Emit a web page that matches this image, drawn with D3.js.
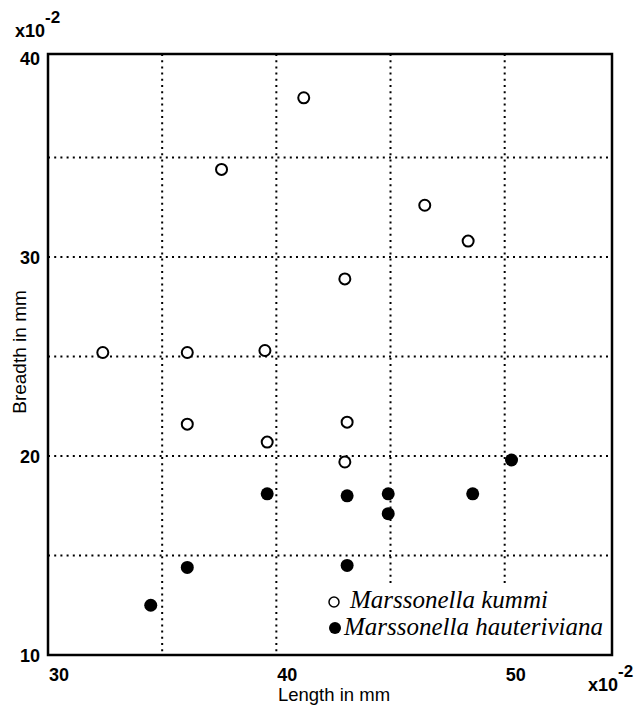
<!DOCTYPE html>
<html>
<head>
<meta charset="utf-8">
<script src="https://cdn.jsdelivr.net/npm/d3@7"></script>
<style>
  body { margin: 0; background: white; }
  text { font-family: "Liberation Sans", Arial, sans-serif; fill: black; }
</style>
</head>
<body>
<div id="chart"></div>
<script>

// Marssonella kummi (open circles), values x10^-2 mm
var kummiLength  = [41.2, 37.6, 46.5, 48.4, 43.0, 32.4, 36.1, 39.5, 36.1, 39.6, 43.1, 43.0];
var kummiBreadth = [38.0, 34.4, 32.6, 30.8, 28.9, 25.2, 25.2, 25.3, 21.6, 20.7, 21.7, 19.7];

// Marssonella hauteriviana (filled circles)
var hautLength  = [39.6, 43.1, 44.9, 44.9, 48.6, 50.3, 36.1, 43.1, 34.5];
var hautBreadth = [18.1, 18.0, 18.1, 17.1, 18.1, 19.8, 14.4, 14.5, 12.5];

var xTicks = [30, 40, 50];
var yTicks = [10, 20, 30, 40];
var xGrid = [35, 40, 45, 50];
var yGrid = [15, 20, 25, 30, 35];
var seriesNames = ["Marssonella kummi", "Marssonella hauteriviana"];

var svg = d3.select("#chart")
            .append("svg")
            .attr("width", 637)
            .attr("height", 710);

var x = d3.scaleLinear().domain([30, 54.7]).range([48, 612]);
var y = d3.scaleLinear().domain([10, 40.2]).range([655, 54]);

// dotted grid
svg.selectAll(".hgrid")
   .data(yGrid)
   .enter().append("line")
   .attr("x1", x(30))
   .attr("x2", x(54.7))
   .attr("y1", function(d){ return y(d); })
   .attr("y2", function(d){ return y(d); })
   .attr("stroke", "black")
   .attr("stroke-width", 2)
   .attr("stroke-dasharray", "2,4.2");

// the two right hand verticals stop above the legend
svg.selectAll(".vgrid")
   .data(xGrid)
   .enter().append("line")
   .attr("x1", function(d){ return x(d); })
   .attr("x2", function(d){ return x(d); })
   .attr("y1", y(40.2))
   .attr("y2", function(d){ return d > 42 ? y(13.5) : y(10); })
   .attr("stroke", "black")
   .attr("stroke-width", 2)
   .attr("stroke-dasharray", "2,4.2");

// frame
svg.append("rect")
   .attr("x", x(30))
   .attr("y", y(40.2))
   .attr("width", x(54.7) - x(30))
   .attr("height", y(10) - y(40.2))
   .attr("fill", "none")
   .attr("stroke", "black")
   .attr("stroke-width", 2.5);

// tick labels
svg.selectAll(".ytick")
   .data(yTicks)
   .enter().append("text")
   .attr("x", 40)
   .attr("y", function(d){ return y(d) + 7; })
   .attr("text-anchor", "end")
   .style("font-size", "18px")
   .style("font-weight", "bold")
   .text(function(d){ return d; });

svg.selectAll(".xtick")
   .data(xTicks)
   .enter().append("text")
   .attr("x", function(d){ return x(d) + 11; })
   .attr("y", 681)
   .attr("text-anchor", "middle")
   .style("font-size", "18px")
   .style("font-weight", "bold")
   .text(function(d){ return d; });

// x10^-2 multipliers
var m1 = svg.append("text")
   .attr("x", 15)
   .attr("y", 37)
   .style("font-size", "18px")
   .style("font-weight", "bold")
   .text("x10");
m1.append("tspan")
   .attr("dy", -14)
   .style("font-size", "17px")
   .text("-2");

var m2 = svg.append("text")
   .attr("x", 588)
   .attr("y", 691)
   .style("font-size", "18px")
   .style("font-weight", "bold")
   .text("x10");
m2.append("tspan")
   .attr("dy", -14)
   .style("font-size", "17px")
   .text("-2");

// axis titles
svg.append("text")
   .attr("x", 334)
   .attr("y", 701)
   .attr("text-anchor", "middle")
   .style("font-size", "18.5px")
   .text("Length in mm");

svg.append("text")
   .attr("transform", "translate(26,352) rotate(-90)")
   .attr("text-anchor", "middle")
   .style("font-size", "19px")
   .text("Breadth in mm");

// points
svg.selectAll(".kummi")
   .data(d3.range(kummiLength.length))
   .enter().append("circle")
   .attr("cx", function(i){ return x(kummiLength[i]); })
   .attr("cy", function(i){ return y(kummiBreadth[i]); })
   .attr("r", 5.5)
   .attr("fill", "white")
   .attr("stroke", "black")
   .attr("stroke-width", 2);

svg.selectAll(".haut")
   .data(d3.range(hautLength.length))
   .enter().append("circle")
   .attr("cx", function(i){ return x(hautLength[i]); })
   .attr("cy", function(i){ return y(hautBreadth[i]); })
   .attr("r", 6.5)
   .attr("fill", "black");

// legend
svg.append("circle")
   .attr("cx", 334)
   .attr("cy", 602)
   .attr("r", 5)
   .attr("fill", "white")
   .attr("stroke", "black")
   .attr("stroke-width", 1.5);

svg.append("circle")
   .attr("cx", 335)
   .attr("cy", 628)
   .attr("r", 6)
   .attr("fill", "black");

svg.selectAll(".legtext")
   .data(seriesNames)
   .enter().append("text")
   .attr("x", function(d, i){ return i == 0 ? 350 : 344; })
   .attr("y", function(d, i){ return 608 + i * 27; })
   .style("font-family", "'Liberation Serif', 'Times New Roman', serif")
   .style("font-style", "italic")
   .style("font-size", "25px")
   .text(function(d){ return d; });

</script>
</body>
</html>
